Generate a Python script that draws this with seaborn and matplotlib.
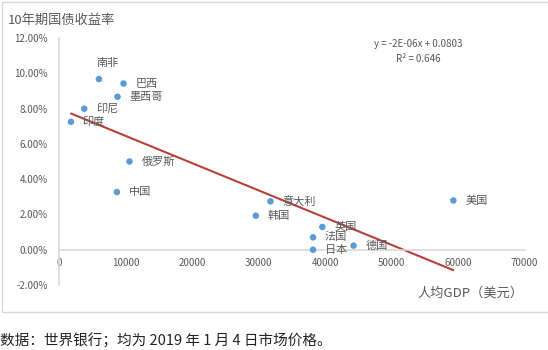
import matplotlib
matplotlib.use("Agg")
import matplotlib.pyplot as plt
import seaborn as sns
import pandas as pd
from matplotlib.patches import Rectangle

countries = ["南非", "巴西", "墨西哥", "印尼", "印度", "俄罗斯", "中国", "韩国",
             "意大利", "英国", "法国", "日本", "德国", "美国"]
gdp = [6000, 9700, 8800, 3800, 1800, 10600, 8700, 29600,
       31800, 39600, 38200, 38200, 44300, 59300]
yields = [0.0967, 0.0942, 0.0867, 0.0799, 0.0725, 0.0500, 0.0327, 0.0193,
          0.0274, 0.0129, 0.0070, 0.0000, 0.0023, 0.0279]
x_ticks = [0, 10000, 20000, 30000, 40000, 50000, 60000, 70000]
y_ticks = [-0.02, 0.0, 0.02, 0.04, 0.06, 0.08, 0.10, 0.12]

df = pd.DataFrame({"country": countries, "gdp": gdp, "yield": yields})

sns.set_theme(style="white")
plt.rcParams["font.family"] = ["Noto Sans CJK SC", "DejaVu Sans"]

W, H = 548, 350
fig = plt.figure(figsize=(W / 100, H / 100), dpi=100)
ax = fig.add_axes([59 / W, 1 - 285 / H, (524.5 - 59) / W, (285 - 38) / H])

grey = "#595959"
axis_c = "#d9d9d9"

sns.regplot(data=df, x="gdp", y="yield", ax=ax, scatter=False, ci=None,
            line_kws=dict(color="#b8403b", lw=1.5), truncate=True)
sns.scatterplot(data=df, x="gdp", y="yield", ax=ax, color="#5b9bd5", s=22,
                edgecolor="none", zorder=3)

ax.set_xlim(0, 70000)
ax.set_ylim(-0.02, 0.12)
ax.set_xticks(x_ticks)
ax.set_xticklabels([str(v) for v in x_ticks])
ax.set_yticks(y_ticks)
ax.set_yticklabels([f"{v * 100:.2f}%" for v in y_ticks])
ax.set_xlabel("")
ax.set_ylabel("")
for s in ["top", "right"]:
    ax.spines[s].set_visible(False)
ax.spines["bottom"].set_position(("data", 0))
ax.spines["bottom"].set_color(axis_c)
ax.spines["left"].set_color(axis_c)
ax.spines["bottom"].set_linewidth(1.2)
ax.spines["left"].set_linewidth(1.2)
ax.tick_params(axis="x", length=0, pad=6, labelsize=7, labelcolor=grey)
ax.tick_params(axis="y", length=0, pad=8, labelsize=7, labelcolor=grey)
ax.patch.set_alpha(0)

for c, xv, yv in zip(countries, gdp, yields):
    if c == "南非":
        ax.annotate(c, (xv, yv), xytext=(-1.5, 11.5), textcoords="offset points",
                    ha="left", va="center", fontsize=8, color=grey,
                    arrowprops=dict(arrowstyle="-", color="#c8c8c8", lw=0.7,
                                    shrinkA=3, shrinkB=3))
    else:
        ax.annotate(c, (xv, yv), xytext=(8.5, 0), textcoords="offset points",
                    ha="left", va="center", fontsize=8, color=grey)

fig.text(8 / W, 1 - 20 / H, "10年期国债收益率", fontsize=9.5, color=grey,
         ha="left", va="center")
fig.text(418 / W, 1 - 44 / H, "y = -2E-06x + 0.0803", fontsize=7, color=grey,
         ha="center", va="center")
fig.text(418 / W, 1 - 59 / H, "R² = 0.646", fontsize=7, color=grey,
         ha="center", va="center")
fig.text(470 / W, 1 - 293 / H, "人均GDP（美元）", fontsize=9.5, color=grey,
         ha="center", va="center")
fig.text(0, 1 - 341 / H, "数据：世界银行；均为 2019 年 1 月 4 日市场价格。",
         fontsize=10.5, color="#222222", ha="left", va="center")

fig.patches.append(Rectangle((2 / W, 1 - 312 / H), (W + 5) / W, (312 - 1.5) / H,
                             transform=fig.transFigure, fill=False,
                             edgecolor=axis_c, lw=1, figure=fig))

fig.savefig("out.png", dpi=100, facecolor="white")
